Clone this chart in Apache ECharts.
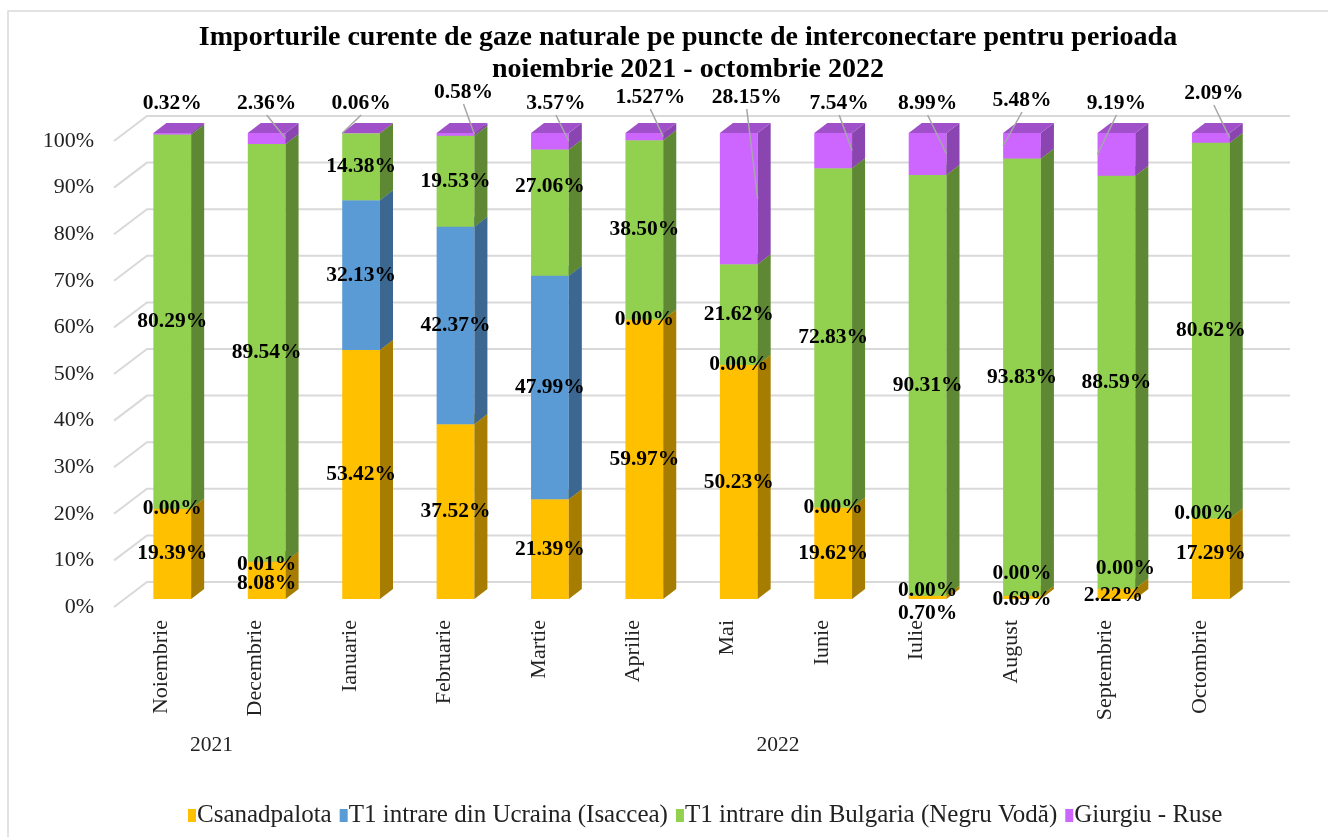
<!DOCTYPE html>
<html lang="ro">
<head>
    <meta charset="UTF-8">
    <title>Importuri gaze naturale</title>
    <script src="https://cdn.jsdelivr.net/npm/echarts@6/dist/echarts.min.js"></script>
    <style>
        html, body { margin: 0; padding: 0; background: #fff; }
    </style>
</head>
<body>
    <div id="main" style="width: 1328px;height:837px;"></div>
    <script type="text/javascript">

        // date (procente din importul lunar)
        var luni = ['Noiembrie', 'Decembrie', 'Ianuarie', 'Februarie', 'Martie', 'Aprilie',
                    'Mai', 'Iunie', 'Iulie', 'August', 'Septembrie', 'Octombrie'];
        var ani = [
            { an: '2021', de: 0, pana: 1 },
            { an: '2022', de: 2, pana: 11 }
        ];
        var csanadpalota = [19.39, 8.08, 53.42, 37.52, 21.39, 59.97, 50.23, 19.62, 0.70, 0.69, 2.22, 17.29];
        var ucraina      = [0.00, 0.01, 32.13, 42.37, 47.99, 0.00, 0.00, 0.00, 0.00, 0.00, 0.00, 0.00];
        var bulgaria     = [80.29, 89.54, 14.38, 19.53, 27.06, 38.50, 21.62, 72.83, 90.31, 93.83, 88.59, 80.62];
        var giurgiu      = [0.32, 2.36, 0.06, 0.58, 3.57, 1.527, 28.15, 7.54, 8.99, 5.48, 9.19, 2.09];
        var yTicks = [0, 10, 20, 30, 40, 50, 60, 70, 80, 90, 100];

        var FONT = '"Liberation Serif", "Times New Roman", serif';

        // culori: fata, lateral, capac
        var culori = [
            { nume: 'Csanadpalota', date: csanadpalota, fata: '#FFC000', lat: '#A67D00', sus: '#D9A400' },
            { nume: 'T1 intrare din Ucraina (Isaccea)', date: ucraina, fata: '#5B9BD5', lat: '#3C6791', sus: '#4A82B8' },
            { nume: 'T1 intrare din Bulgaria (Negru Vodă)', date: bulgaria, fata: '#92D050', lat: '#5E8834', sus: '#7BB244' },
            { nume: 'Giurgiu - Ruse', date: giurgiu, fata: '#CC66FF', lat: '#8A45B0', sus: '#A050C8' }
        ];

        // ajustari manuale ale etichetelor (px) ca in Excel: 'serie:index' -> [dx, dy]
        var mutari = {
            '0:1': [0, 3], '1:1': [0, 3],
            '2:4': [0, -26],
            '0:8': [0, 16], '1:8': [0, -5],
            '0:9': [0, 2], '1:9': [0, -22],
            '0:10': [-3, 2], '1:10': [9, -20],
            '0:11': [0, -5], '1:11': [-7, -5]
        };
        // etichetele Giurgiu stau deasupra barelor: [dx, dy fata de 100%], linie: 1 dreapta, -1 stanga, 0 fara
        var susGiurgiu = [[0, -30], [0, -30], [0, -30], [8, -41], [6, -30], [6, -36],
                          [8, -36], [6, -30], [0, -30], [0, -33], [0, -30], [3, -40]];
        var linieGiurgiu = [0, 1, -1, 1, 1, 1, 1, 1, 1, -1, -1, 1];

        function fmt(v) {
            var s = String(v);
            var dec = s.indexOf('.') >= 0 ? s.split('.')[1].length : 0;
            return v.toFixed(Math.max(2, dec)) + '%';
        }

        var myChart = echarts.init(document.getElementById('main'));

        function renderGrila(params, api) {
            var y = api.coord([0, api.value(1)])[1];
            var x0 = params.coordSys.x;
            var w = params.coordSys.width;
            return {
                type: 'polyline',
                shape: { points: [[x0, y], [x0 + 33, y - 25], [x0 + w + 43, y - 25]] },
                style: { stroke: '#D9D9D9', lineWidth: 2, fill: null }
            };
        }

        function faBara(s) {
            return function (params, api) {
                var i = api.value(0);
                var baza = api.value(1);
                var v = api.value(2);
                var p0 = api.coord([i, baza]);
                var p1 = api.coord([i, baza + v]);
                var band = api.size([1, 0])[0];
                var bw = band * 0.4;
                var dx = band * 0.138, dy = dx * 0.77;
                var cx = p0[0] + band * 0.117;
                var x0 = cx - bw / 2, x1 = cx + bw / 2;
                var yb = p0[1] - 8, yt = p1[1] - 8;
                var c = culori[s];
                var copii = [];
                if (v > 0) {
                    copii.push({ type: 'rect', shape: { x: x0, y: yt, width: bw, height: yb - yt }, style: { fill: c.fata } });
                    copii.push({ type: 'polygon', shape: { points: [[x1, yb], [x1 + dx, yb - dy], [x1 + dx, yt - dy], [x1, yt]] }, style: { fill: c.lat } });
                    copii.push({ type: 'polygon', shape: { points: [[x0, yt], [x1, yt], [x1 + dx, yt - dy], [x0 + dx, yt - dy]] }, style: { fill: c.sus } });
                }
                var tx, ty;
                if (s === 3) {
                    var top = api.coord([i, 100])[1] - 8;
                    tx = cx + susGiurgiu[i][0];
                    ty = top + susGiurgiu[i][1];
                    if (linieGiurgiu[i] !== 0) {
                        var ex = linieGiurgiu[i] > 0 ? x1 : x0;
                        copii.push({
                            type: 'line', z2: 90,
                            shape: { x1: tx, y1: ty + 12, x2: ex, y2: (yb + yt) / 2 },
                            style: { stroke: '#A6A6A6', lineWidth: 1.5 }
                        });
                    }
                } else {
                    var m = mutari[s + ':' + i] || [0, 0];
                    tx = cx + m[0];
                    ty = (yb + yt) / 2 + m[1];
                }
                copii.push({
                    type: 'text', z2: 100,
                    style: {
                        x: tx, y: ty, text: fmt(c.date[i]),
                        font: 'bold 21.5px ' + FONT, fill: '#000',
                        align: 'center', verticalAlign: 'middle'
                    }
                });
                return { type: 'group', children: copii };
            };
        }

        var serii = [{
            name: 'grila',
            type: 'custom',
            silent: true,
            z: 1,
            renderItem: renderGrila,
            encode: { x: 0, y: 1 },
            data: yTicks.map(function (t) { return [0, t]; })
        }];

        var cumul = luni.map(function () { return 0; });
        culori.forEach(function (c, s) {
            var d = c.date.map(function (v, i) {
                var r = [i, cumul[i], v];
                cumul[i] += v;
                return r;
            });
            serii.push({
                name: c.nume,
                type: 'custom',
                z: 2,
                itemStyle: { color: c.fata },
                renderItem: faBara(s),
                encode: { x: 0, y: [1, 2] },
                data: d
            });
        });

        var option = {
            animation: false,
            title: {
                text: 'Importurile curente de gaze naturale pe puncte de interconectare pentru perioada\nnoiembrie 2021 - octombrie 2022',
                left: 683,
                top: 17,
                textAlign: 'center',
                textStyle: { fontFamily: FONT, fontSize: 28, fontWeight: 'bold', color: '#000', lineHeight: 32 }
            },
            legend: {
                data: culori.map(function (c) { return c.nume; }),
                left: 183,
                top: 798,
                icon: 'rect',
                itemWidth: 8,
                itemHeight: 13,
                itemGap: 8,
                textStyle: { fontFamily: FONT, fontSize: 25, color: '#222', padding: [0, 0, 0, -4] }
            },
            grid: { left: 114, top: 141, width: 1133, height: 466 },
            xAxis: {
                type: 'category',
                data: luni,
                axisLine: { show: false },
                axisTick: { show: false },
                axisLabel: { rotate: 90, margin: 13, fontFamily: FONT, fontSize: 22, color: '#222', interval: 0 }
            },
            yAxis: {
                type: 'value',
                min: 0,
                max: 100,
                interval: 10,
                axisLine: { show: false },
                axisTick: { show: false },
                splitLine: { show: false },
                axisLabel: { formatter: '{value}%', margin: 20, fontFamily: FONT, fontSize: 22, color: '#222' }
            },
            series: serii
        };

        // 使用刚指定的配置项和数据显示图表。
        myChart.setOption(option);

        // chenarul si anii sub lunile respective
        var grafice = [{
            type: 'rect',
            shape: { x: 8, y: 11, width: 1340, height: 840 },
            style: { fill: null, stroke: '#D9D9D9', lineWidth: 1.5 },
            silent: true
        }];
        ani.forEach(function (a) {
            var xa = myChart.convertToPixel({ xAxisIndex: 0 }, a.de);
            var xb = myChart.convertToPixel({ xAxisIndex: 0 }, a.pana);
            grafice.push({
                type: 'text',
                x: (xa + xb) / 2 + 3,
                y: 745,
                style: { text: a.an, font: '21.5px ' + FONT, fill: '#222', align: 'center', verticalAlign: 'middle' }
            });
        });
        myChart.setOption({ graphic: grafice });

    </script>
</body>
</html>
